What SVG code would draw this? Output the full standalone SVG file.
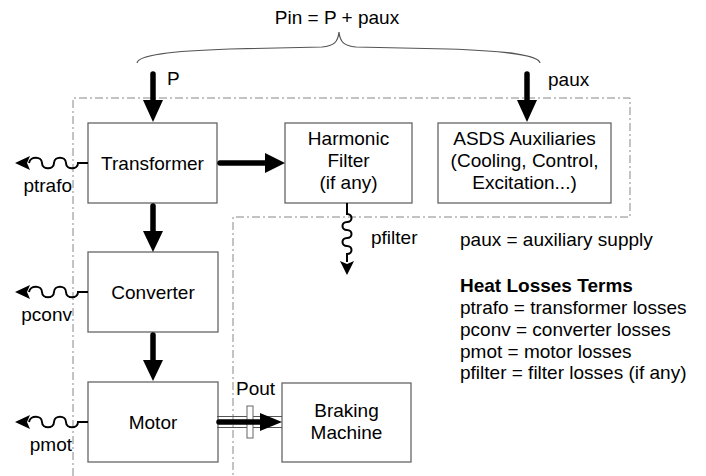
<svg xmlns="http://www.w3.org/2000/svg" width="706" height="476" viewBox="0 0 706 476">
<defs>
<style>
text{font-family:"Liberation Sans",Arial,sans-serif;font-size:19px;fill:#000}
.c{text-anchor:middle}
.r{text-anchor:end}
.b{font-weight:bold}
.box{fill:#fff;stroke:#666;stroke-width:1.3}
.dd{fill:none;stroke:#888;stroke-width:1;stroke-dasharray:8 3 2 3}
.thick{fill:none;stroke:#000;stroke-width:5.5;stroke-linecap:round}
.head{fill:#000}
.wave{fill:none;stroke:#000;stroke-width:2}
.thin{fill:none;stroke:#555;stroke-width:1.2}
</style>
</defs>
<rect width="706" height="476" fill="#fff"/>
<path class="dd" d="M73,476 V98 H630 V217 H233 V476"/>
<g id="title">
<text class="c" x="337" y="24">Pin = P + paux</text>
<path class="thin" d="M137,63 C138,55 170,51 230,49 L322,47 C334,46 338,42 339,32 C340,42 344,46 356,47 L448,49 C508,51 539,55 540,63"/>
</g>
<g id="transformer"><rect class="box" x="88" y="123" width="129" height="80"/><text class="c" x="152.5" y="170">Transformer</text></g>
<g id="filter"><rect class="box" x="285" y="123" width="127" height="80"/><text class="c" x="348.5" y="145">Harmonic</text><text class="c" x="348.5" y="167">Filter</text><text class="c" x="348.5" y="189">(if any)</text></g>
<g id="aux"><rect class="box" x="438" y="123" width="173" height="80"/><text class="c" x="524.5" y="145">ASDS Auxiliaries</text><text class="c" x="524.5" y="167">(Cooling, Control,</text><text class="c" x="524.5" y="189">Excitation...)</text></g>
<g id="converter"><rect class="box" x="88" y="252" width="130" height="80"/><text class="c" x="153" y="299">Converter</text></g>
<g id="motor"><rect class="box" x="88" y="382" width="130" height="80"/><text class="c" x="153" y="429">Motor</text></g>
<g id="braking"><rect class="box" x="282" y="383" width="129" height="79"/><text class="c" x="346.5" y="417">Braking</text><text class="c" x="346.5" y="439">Machine</text></g>
<g id="connectors">
<path class="thick" d="M153,74 V101"/><polygon class="head" points="143,100 163,100 153,122"/>
<path class="thick" d="M527,74 V101"/><polygon class="head" points="517,100 537,100 527,122"/>
<path class="thick" d="M220,163 H267"/><polygon class="head" points="265,153 265,173 285,163"/>
<path class="thick" d="M153,206 V232"/><polygon class="head" points="143,231 163,231 153,252"/>
<path class="thick" d="M153,335 V361"/><polygon class="head" points="143,360 163,360 153,381"/>
<path class="thin" d="M217,416.5 H282 M217,427.5 H282"/>
<rect x="247" y="406" width="6" height="32" fill="#fff" stroke="#666" stroke-width="1"/>
<path class="thick" d="M219,422 H262"/><polygon class="head" points="260,413 260,431 282,422"/>
<path class="wave" d="M88,163 H78 C78,170 66,170 66,163 C66,156 54,156 54,163 C54,170 42,170 42,163 C42,156 30,156 29,163"/><polygon class="head" points="15,163 30,156 27,163 30,170"/>
<path class="wave" d="M88,292 H78 C78,299 66,299 66,292 C66,285 54,285 54,292 C54,299 42,299 42,292 C42,285 30,285 29,292"/><polygon class="head" points="15,292 30,285 27,292 30,299"/>
<path class="wave" d="M88,422 H78 C78,429 66,429 66,422 C66,415 54,415 54,422 C54,429 42,429 42,422 C42,415 30,415 29,422"/><polygon class="head" points="15,422 30,415 27,422 30,429"/>
<path class="wave" d="M347,203 V214 C353,214 353,222 347,222 C341,222 341,230 347,230 C353,230 353,238 347,238 C341,238 341,246 347,246 C353,246 353,254 347,254 V262"/><polygon class="head" points="340,261 347,264 354,261 347,275"/>
</g>
<g id="labels">
<text x="167" y="85">P</text>
<text x="548" y="86">paux</text>
<text class="r" x="72" y="192">ptrafo</text>
<text class="r" x="72" y="321">pconv</text>
<text class="r" x="72" y="451">pmot</text>
<text x="371" y="244">pfilter</text>
<text x="236" y="395">Pout</text>
<text x="460" y="246">paux = auxiliary supply</text>
<text class="b" x="460" y="292">Heat Losses Terms</text>
<text x="460" y="314">ptrafo = transformer losses</text>
<text x="460" y="336">pconv = converter losses</text>
<text x="460" y="358">pmot = motor losses</text>
<text x="460" y="379">pfilter = filter losses (if any)</text>
</g>
</svg>
